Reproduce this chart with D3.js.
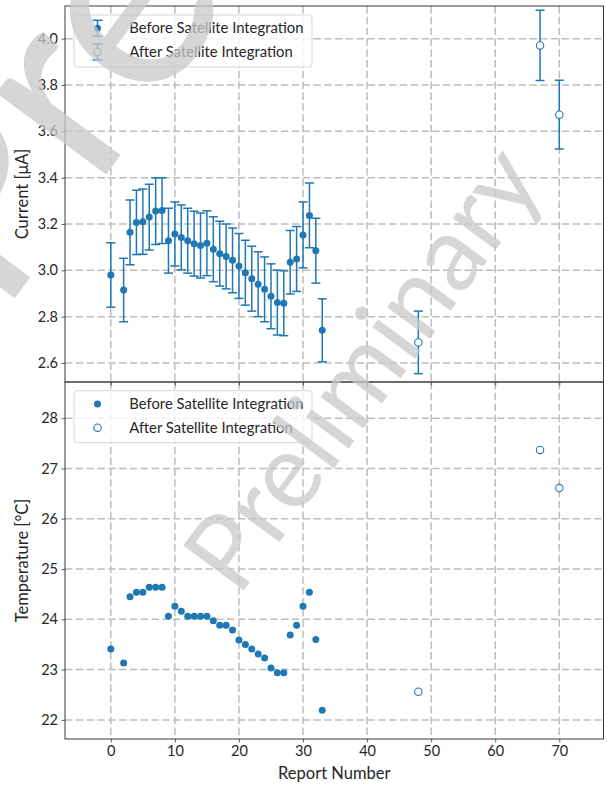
<!DOCTYPE html>
<html>
<head>
<meta charset="utf-8">
<script src="https://cdn.jsdelivr.net/npm/d3@7"></script>
<style>
  html, body { margin: 0; padding: 0; background: #fff; }
  svg { display: block; }
  text { font-family: Lato, "Open Sans", sans-serif; }
</style>
</head>
<body>
<div id="chart"></div>
<script>
// ---------------- data ----------------
const reportsBefore = [0, 2, 3, 4, 5, 6, 7, 8, 9, 10, 11, 12, 13, 14, 15, 16, 17, 18, 19, 20, 21, 22, 23, 24, 25, 26, 27, 28, 29, 30, 31, 32, 33];
const currentBefore = [2.980, 2.915, 3.164, 3.207, 3.210, 3.230, 3.256, 3.258, 3.128, 3.157, 3.142, 3.128, 3.115, 3.107, 3.117, 3.091, 3.072, 3.060, 3.043, 3.019, 2.990, 2.964, 2.940, 2.918, 2.888, 2.861, 2.858, 3.035, 3.049, 3.153, 3.237, 3.085, 2.741];
const currentErrBefore = [0.139, 0.137, 0.140, 0.139, 0.141, 0.142, 0.144, 0.142, 0.140, 0.138, 0.140, 0.140, 0.140, 0.140, 0.140, 0.140, 0.140, 0.140, 0.140, 0.140, 0.140, 0.140, 0.140, 0.140, 0.140, 0.140, 0.140, 0.137, 0.140, 0.142, 0.140, 0.140, 0.136];
const tempBefore = [23.41, 23.13, 24.45, 24.54, 24.54, 24.64, 24.64, 24.64, 24.06, 24.26, 24.16, 24.06, 24.06, 24.06, 24.06, 23.97, 23.88, 23.88, 23.79, 23.59, 23.50, 23.41, 23.31, 23.23, 23.03, 22.94, 22.94, 23.69, 23.88, 24.26, 24.54, 23.60, 22.19];

const reportsAfter = [48, 67, 70];
const currentAfter = [2.689, 3.971, 3.672];
const currentErrAfter = [0.135, 0.152, 0.148];
const tempAfter = [22.56, 27.37, 26.61];

const xTicks = [0, 10, 20, 30, 40, 50, 60, 70];
const currentTicks = [2.6, 2.8, 3.0, 3.2, 3.4, 3.6, 3.8, 4.0];
const tempTicks = [22, 23, 24, 25, 26, 27, 28];

const seriesLabels = ["Before Satellite Integration", "After Satellite Integration"];
const xLabel = "Report Number";
const topYLabel = "Current [\u03BCA]";
const botYLabel = "Temperature [\u00B0C]";
const watermarkText = "Preliminary";

// ---------------- layout ----------------
const W = 607, H = 785;
const left = 65, right = 603.5;
const topA = { y0: 6, y1: 382 };
const botA = { y0: 382, y1: 739 };
const blue = "#1f77b4";
const textCol = "#262626";
const spineCol = "#3a3a3a";
const gridCol = "#bdbdbd";

const svg = d3.select("#chart").append("svg").attr("width", W).attr("height", H);

const x = d3.scaleLinear().domain([-7.15, 76.9]).range([left, right]);
const yTop = d3.scaleLinear().domain([2.518, 4.141]).range([topA.y1, topA.y0]);
const yBot = d3.scaleLinear().domain([21.62, 28.72]).range([botA.y1, botA.y0]);

// ---------------- watermarks ----------------
function watermarks(parent) {
  const wm = parent.append("g").style("pointer-events", "none");
  wm.append("text").attr("transform", "translate(238,598) rotate(-53.5)").attr("text-anchor", "start")
    .attr("fill", "#c8c8c8").attr("fill-opacity", 0.75).style("font-size", "105px").text(watermarkText);
  wm.append("text").attr("transform", "translate(0,318) rotate(-53.5)").attr("text-anchor", "start")
    .attr("fill", "#c8c8c8").attr("fill-opacity", 0.75).style("font-size", "270px").text(watermarkText);
}

function panel(yScale, ticks, fmt, area, clipId) {
  const g = svg.append("g");
  svg.append("clipPath").attr("id", clipId).append("rect")
    .attr("x", left).attr("y", area.y0).attr("width", right - left).attr("height", area.y1 - area.y0);
  const grid = g.append("g").attr("clip-path", `url(#${clipId})`);
  grid.selectAll("line.v").data(xTicks).join("line")
    .attr("x1", d => x(d)).attr("x2", d => x(d)).attr("y1", area.y0).attr("y2", area.y1)
    .attr("stroke", gridCol).attr("stroke-width", 1.5).attr("stroke-dasharray", "7.5,3.3");
  grid.selectAll("line.h").data(ticks).join("line")
    .attr("x1", left).attr("x2", right).attr("y1", d => yScale(d)).attr("y2", d => yScale(d))
    .attr("stroke", gridCol).attr("stroke-width", 1.5).attr("stroke-dasharray", "7.5,3.3");

  const yAxis = d3.axisLeft(yScale).tickValues(ticks).tickFormat(fmt).tickSizeInner(3.5).tickSizeOuter(0).tickPadding(3.5);
  const ya = g.append("g").attr("transform", `translate(${left},0)`).call(yAxis);
  ya.select(".domain").remove();
  ya.selectAll("line").attr("stroke", spineCol).attr("stroke-width", 0.8);
  ya.selectAll("text").attr("fill", textCol).style("font-size", "14.5px").style("font-family", "Lato");
  return { g, grid };
}

const pTop = panel(yTop, currentTicks, d3.format(".1f"), topA, "clipTop");
const pBot = panel(yBot, tempTicks, d3.format("d"), botA, "clipBot");

// x axis (bottom panel with labels)
const xa = svg.append("g").attr("transform", `translate(0,${botA.y1})`)
  .call(d3.axisBottom(x).tickValues(xTicks).tickFormat(d3.format("d")).tickSizeInner(3.5).tickSizeOuter(0).tickPadding(3.5));
xa.select(".domain").remove();
xa.selectAll("line").attr("stroke", spineCol).attr("stroke-width", 0.8);
xa.selectAll("text").attr("fill", textCol).style("font-size", "14.5px").style("font-family", "Lato");

// x tick marks on the top panel (no labels)
const xaTop = svg.append("g").attr("transform", `translate(0,${topA.y1})`)
  .call(d3.axisBottom(x).tickValues(xTicks).tickFormat("").tickSizeInner(3.5).tickSizeOuter(0));
xaTop.select(".domain").remove();
xaTop.selectAll("line").attr("stroke", spineCol).attr("stroke-width", 0.8);

// ---------------- top panel data ----------------
const before = reportsBefore.map((r, i) => ({ r, c: currentBefore[i], e: currentErrBefore[i], t: tempBefore[i] }));
const after = reportsAfter.map((r, i) => ({ r, c: currentAfter[i], e: currentErrAfter[i], t: tempAfter[i] }));

function errorBars(g, data) {
  const eg = g.append("g");
  eg.selectAll("line.bar").data(data).join("line")
    .attr("x1", d => x(d.r)).attr("x2", d => x(d.r))
    .attr("y1", d => yTop(d.c - d.e)).attr("y2", d => yTop(d.c + d.e))
    .attr("stroke", blue).attr("stroke-width", 1.5);
  [-1, 1].forEach(s => {
    eg.selectAll(null).data(data).join("line")
      .attr("x1", d => x(d.r) - 4.5).attr("x2", d => x(d.r) + 4.5)
      .attr("y1", d => yTop(d.c + s * d.e)).attr("y2", d => yTop(d.c + s * d.e))
      .attr("stroke", blue).attr("stroke-width", 1.5);
  });
}
const topData = pTop.g.append("g").attr("clip-path", "url(#clipTop)");
errorBars(topData, before);
topData.selectAll("circle.b").data(before).join("circle")
  .attr("cx", d => x(d.r)).attr("cy", d => yTop(d.c)).attr("r", 3.5).attr("fill", blue);
errorBars(topData, after);
topData.selectAll("circle.a").data(after).join("circle")
  .attr("cx", d => x(d.r)).attr("cy", d => yTop(d.c)).attr("r", 3.7)
  .attr("fill", "#fff").attr("stroke", blue).attr("stroke-width", 1.1);

// ---------------- bottom panel data ----------------
const botData = pBot.g.append("g").attr("clip-path", "url(#clipBot)");
botData.selectAll("circle.b").data(before).join("circle")
  .attr("cx", d => x(d.r)).attr("cy", d => yBot(d.t)).attr("r", 3.5).attr("fill", blue);
botData.selectAll("circle.a").data(after).join("circle")
  .attr("cx", d => x(d.r)).attr("cy", d => yBot(d.t)).attr("r", 3.7)
  .attr("fill", "#fff").attr("stroke", blue).attr("stroke-width", 1.1);

// ---------------- spines ----------------
[topA, botA].forEach(a => {
  svg.append("rect").attr("x", left).attr("y", a.y0).attr("width", right - left).attr("height", a.y1 - a.y0)
    .attr("fill", "none").attr("stroke", spineCol).attr("stroke-width", 1);
});

// ---------------- legends ----------------
function legend(y0, withErr) {
  const g = svg.append("g");
  g.append("rect").attr("x", 74).attr("y", y0).attr("width", 238).attr("height", 52).attr("rx", 3)
    .attr("fill", "#fff").attr("fill-opacity", 0.8).attr("stroke", "#d6d6d6").attr("stroke-width", 1);
  const rows = [y0 + 13.3, y0 + 37];
  rows.forEach((ry, i) => {
    const mx = 97.5;
    if (withErr) {
      g.append("line").attr("x1", mx).attr("x2", mx).attr("y1", ry - 8).attr("y2", ry + 8).attr("stroke", blue).attr("stroke-width", 1.5);
      [-8, 8].forEach(o => g.append("line").attr("x1", mx - 5).attr("x2", mx + 5).attr("y1", ry + o).attr("y2", ry + o).attr("stroke", blue).attr("stroke-width", 1.5));
    }
    if (i === 0) g.append("circle").attr("cx", mx).attr("cy", ry).attr("r", 3.5).attr("fill", blue);
    else g.append("circle").attr("cx", mx).attr("cy", ry).attr("r", 3.7).attr("fill", "#fff").attr("stroke", blue).attr("stroke-width", 1.1);
    g.append("text").attr("x", 129.3).attr("y", ry).attr("dy", "0.35em").attr("fill", textCol)
      .style("font-size", "14.8px").text(seriesLabels[i]);
  });
}
legend(15, true);
legend(390.7, false);

// watermark drawn over the plot area
watermarks(svg);

// ---------------- axis labels ----------------
svg.append("text").attr("x", (left + right) / 2).attr("y", 779).attr("text-anchor", "middle")
  .attr("fill", textCol).style("font-size", "16.5px").text(xLabel);
svg.append("text").attr("transform", `translate(28,${(topA.y0 + topA.y1) / 2}) rotate(-90)`).attr("text-anchor", "middle")
  .attr("fill", textCol).style("font-size", "16.5px").text(topYLabel);
svg.append("text").attr("transform", `translate(28,${(botA.y0 + botA.y1) / 2}) rotate(-90)`).attr("text-anchor", "middle")
  .attr("fill", textCol).style("font-size", "16.5px").text(botYLabel);
</script>
</body>
</html>
